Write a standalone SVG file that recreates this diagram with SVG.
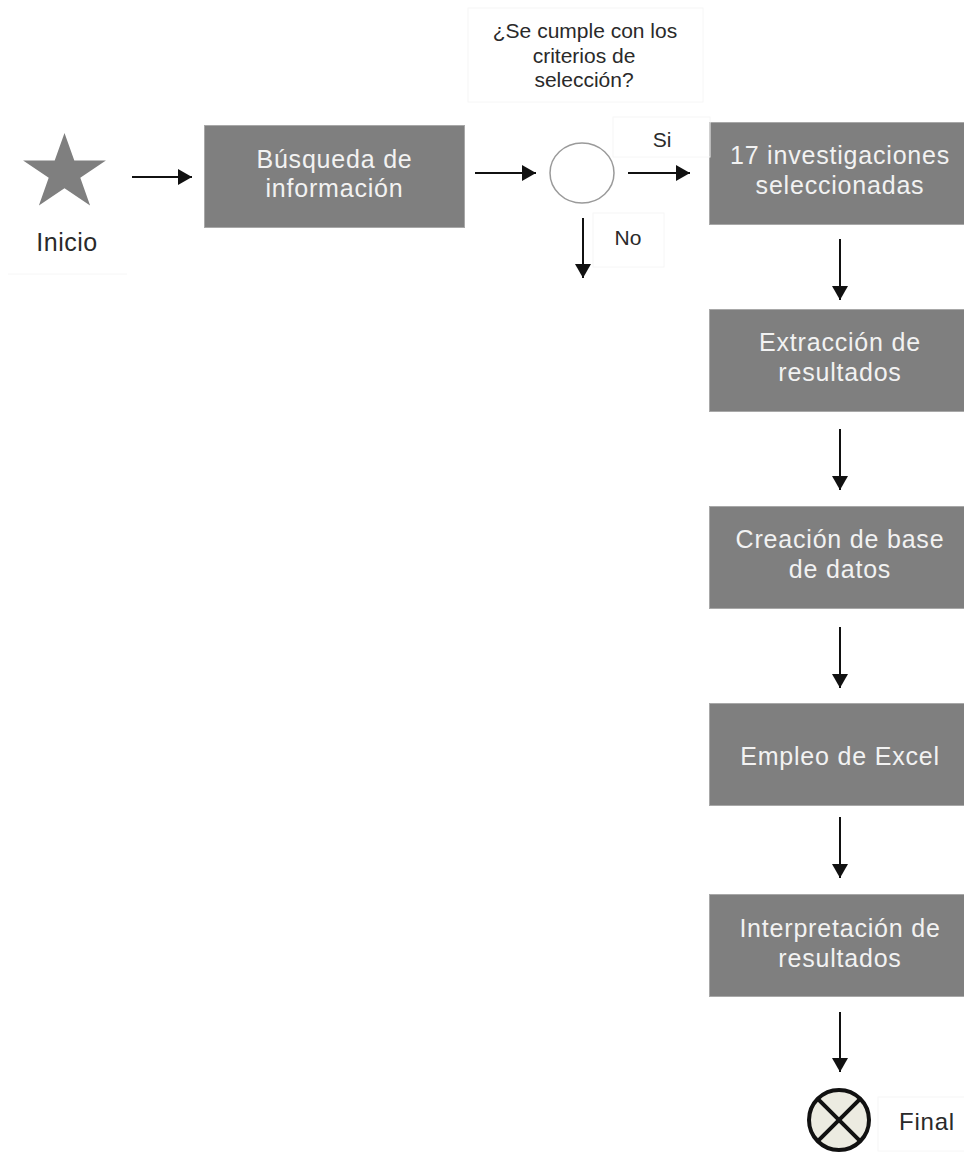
<svg xmlns="http://www.w3.org/2000/svg" width="964" height="1152" viewBox="0 0 964 1152">
<style>
.box{fill:#7f7f7f;stroke:#a8a8a8;stroke-width:1}
.bt{font-family:"Liberation Sans",Arial,sans-serif;font-size:25px;letter-spacing:0.8px;fill:#f2f2f2;text-anchor:middle}
.lbl{font-family:"Liberation Sans",Arial,sans-serif;fill:#2a2a2a;text-anchor:middle}
.faint{fill:none;stroke:#f6f6f6;stroke-width:1}
.conn{stroke:#111;stroke-width:2;fill:none;marker-end:url(#ah)}
</style>
<defs>
<marker id="ah" viewBox="0 0 14 16" refX="14" refY="8" markerWidth="14" markerHeight="16" markerUnits="userSpaceOnUse" orient="auto">
<path d="M0,0 L14,8 L0,16 z" fill="#111"/>
</marker>
</defs>
<rect width="964" height="1152" fill="#fff"/>

<g id="inicio">
<polygon points="64.5,133 74.3,160.6 105.9,160.6 80.3,177.7 90.1,205.4 64.5,188.3 38.9,205.4 48.7,177.7 23.1,160.6 54.7,160.6" fill="#7f7f7f"/>
<line x1="8" y1="274" x2="127" y2="274" stroke="#f6f6f6" stroke-width="1"/>
<text class="lbl" x="67" y="251" font-size="25" letter-spacing="0.5">Inicio</text>
</g>

<g id="busqueda">
<rect class="box" x="204.5" y="125.5" width="260" height="102"/>
<text class="bt" x="334.5" y="168">Búsqueda de</text>
<text class="bt" x="334.5" y="197">información</text>
</g>

<g id="decision">
<ellipse cx="582" cy="173" rx="32" ry="30" fill="#fff" stroke="#9a9a9a" stroke-width="1.5"/>
<rect class="faint" x="468" y="8" width="235" height="94"/>
<text class="lbl" font-size="21" x="585" y="38">¿Se cumple con los</text>
<text class="lbl" font-size="21" x="584" y="63">criterios de</text>
<text class="lbl" font-size="21" x="584" y="87">selección?</text>
</g>

<g id="seleccionadas">
<rect class="box" x="709.5" y="122.5" width="262" height="102"/>
<text class="bt" x="840" y="164">17 investigaciones</text>
<text class="bt" x="840" y="194">seleccionadas</text>
</g>

<g id="extraccion">
<rect class="box" x="709.5" y="309.5" width="262" height="102"/>
<text class="bt" x="840" y="351">Extracción de</text>
<text class="bt" x="840" y="381">resultados</text>
</g>

<g id="creacion">
<rect class="box" x="709.5" y="506.5" width="262" height="102"/>
<text class="bt" x="840" y="548">Creación de base</text>
<text class="bt" x="840" y="578">de datos</text>
</g>

<g id="excel">
<rect class="box" x="709.5" y="703.5" width="262" height="102"/>
<text class="bt" x="840" y="765">Empleo de Excel</text>
</g>

<g id="interpretacion">
<rect class="box" x="709.5" y="894.5" width="262" height="102"/>
<text class="bt" x="840" y="937">Interpretación de</text>
<text class="bt" x="840" y="967">resultados</text>
</g>

<g id="final">
<circle cx="839" cy="1120" r="30" fill="#ecebe1" stroke="#111" stroke-width="4"/>
<line x1="817.8" y1="1098.8" x2="860.2" y2="1141.2" stroke="#111" stroke-width="4"/>
<line x1="860.2" y1="1098.8" x2="817.8" y2="1141.2" stroke="#111" stroke-width="4"/>
<rect class="faint" x="878" y="1097" width="90" height="54"/>
<text class="lbl" x="927" y="1130" font-size="24" letter-spacing="0.8">Final</text>
</g>

<g id="connectors">
<line class="conn" x1="132" y1="177" x2="192" y2="177"/>
<line class="conn" x1="475" y1="173" x2="536" y2="173"/>
<line class="conn" x1="628" y1="173" x2="690" y2="173"/>
<line class="conn" x1="583" y1="218" x2="583" y2="278"/>
<line class="conn" x1="840" y1="239" x2="840" y2="300"/>
<line class="conn" x1="840" y1="429" x2="840" y2="490"/>
<line class="conn" x1="840" y1="627" x2="840" y2="688"/>
<line class="conn" x1="840" y1="817" x2="840" y2="878"/>
<line class="conn" x1="840" y1="1012" x2="840" y2="1072"/>
<rect class="faint" x="613" y="117" width="97" height="40"/>
<text class="lbl" font-size="21" x="662" y="147">Si</text>
<rect class="faint" x="593" y="213" width="71" height="54"/>
<text class="lbl" font-size="21" x="628" y="245">No</text>
</g>
</svg>
